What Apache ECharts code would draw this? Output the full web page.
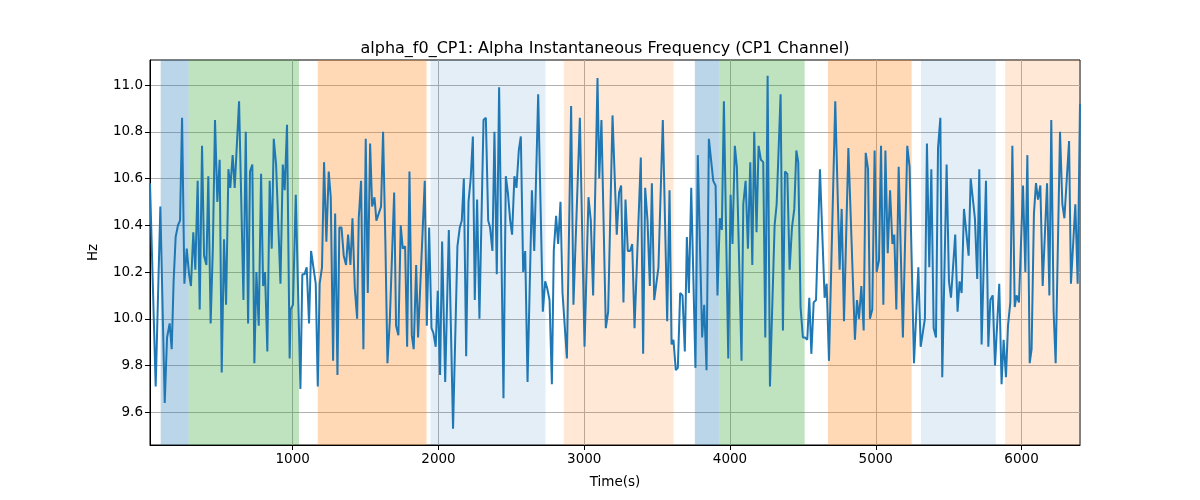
<!DOCTYPE html>
<html>
<head>
<meta charset="utf-8">
<script src="https://cdn.jsdelivr.net/npm/echarts@6/dist/echarts.min.js"></script>
<style>html,body{margin:0;padding:0;background:#fff}#chart{width:1200px;height:500px}</style>
</head>
<body>
<div id="chart"></div>
<script>
const times = [21,60,92,122,138,156,170,183,197,213,227,241,257,273,289,302,318,332,348,362,378,392,408,421,437,452,467,483,499,513,529,543,559,572,588,602,632,662,678,694,707,723,737,751,767,783,797,810,826,842,856,870,886,916,932,945,961,
979,986,1002,1021,1053,1066,1081,1096,1112,1126,1158,1172,1185,1201,1215,1231,1247,1261,1277,1291,1307,1320,1335,1350,1366,1380,1396,1410,1426,1442,1453,1469,1485,1501,1515,1531,1545,1561,1574,1590,1606,1620,1636,1650,1666,1696,1709,1725,1741,1755,1771,1785,1801,1817,1830,1847,1860,1906,1920,1936,1952,1965,1981,1995,2011,2025,2046,2071,
2100,2130,2146,2160,2174,2190,2206,2221,2236,2249,2265,2281,2309,2325,2341,2354,2370,2384,2400,2416,2446,2462,2476,2492,2505,2521,2535,2551,2565,2581,2595,2611,2641,2657,2684,2716,2732,2746,2762,2778,2791,2807,2821,2837,2851,2881,2910,2926,2970,3002,3029,3045,3061,3091,3103,
3118,3148,3164,3194,3223,3239,3253,3269,3283,3299,3315,3329,3345,3388,3404,3418,3434,3450,3464,3480,3509,3539,3569,3585,3599,3612,3628,3642,3658,3674,3690,3704,3718,3734,3763,3779,3809,3823,3839,3855,3885,3901,3914,3930,3944,3958,3988,4004,4017,4033,4047,
4079,4091,4107,4123,4139,4153,4166,4182,4196,4212,4228,4242,4258,4274,4306,4320,4347,4363,4377,4393,4409,4425,4441,4455,4468,4484,4500,4514,4530,4544,4558,4574,4590,4617,4649,4663,4679,4722,4752,4766,4782,4812,4857,4871,4885,4901,4917,4931,4947,4960,4976,4992,5006,5022,5036,5052,5066,5082,5098,5114,5127,5141,5157,
5186,5216,5232,5262,5292,5308,5337,5351,5367,5381,5397,5413,5427,5443,5456,5486,5502,5516,5545,5561,5575,5589,5605,5637,5651,5680,5696,5710,5726,5756,5772,5786,5802,5818,5847,5863,5877,5893,5907,5923,5937,5953,5966,5982,6010,6026,6040,6056,6069,6085,6099,6113,6129,6145,6175,6191,6204,6220,6234,6264,6280,6294,6326,6339,6369,6385,6401];
const values = [10.58,9.71,10.48,9.64,9.92,9.98,9.87,10.16,10.35,10.40,10.42,10.86,10.15,10.30,10.19,10.14,10.37,10.21,10.59,10.04,10.74,10.27,10.23,10.61,9.98,10.30,10.85,10.50,10.68,9.77,10.34,10.06,10.64,10.56,10.70,10.56,10.93,10.08,10.80,9.98,10.63,10.66,9.81,10.20,9.97,10.62,10.14,10.20,9.86,10.59,10.30,10.77,10.66,10.15,10.66,10.55,10.83,
9.83,10.04,10.06,10.53,9.70,10.19,10.19,10.22,9.98,10.29,10.15,9.71,10.15,10.22,10.67,10.33,10.63,10.52,9.82,10.45,9.76,10.39,10.39,10.27,10.23,10.36,10.23,10.43,10.13,10.00,10.43,10.59,9.87,10.77,10.11,10.75,10.48,10.52,10.42,10.45,10.48,10.80,10.32,9.81,9.99,10.54,9.97,9.93,10.40,10.30,10.31,9.88,10.63,9.93,9.87,10.23,9.92,10.59,9.97,10.39,9.96,9.94,9.88,10.12,9.76,10.33,9.73,10.38,
9.53,10.31,10.39,10.42,10.60,9.84,10.50,10.60,10.78,10.08,10.51,10.00,10.85,10.86,10.42,10.39,10.29,10.80,10.19,10.99,9.66,10.61,10.54,10.42,10.36,10.61,10.56,10.72,10.78,10.20,10.29,9.73,10.55,10.29,10.96,10.03,10.16,10.13,10.08,9.72,10.29,10.44,10.32,10.50,10.11,9.83,10.91,10.06,10.86,9.88,10.52,10.42,10.10,11.03,10.60,
10.85,9.96,10.03,10.87,10.36,10.54,10.57,10.07,10.51,10.29,10.29,10.32,9.96,10.69,9.85,10.56,10.42,10.14,10.58,10.08,10.22,10.85,9.99,10.55,9.89,9.91,9.78,9.79,10.11,10.10,9.86,10.35,10.11,10.56,9.79,10.70,9.92,10.06,9.78,10.77,10.59,10.57,10.10,10.43,10.38,10.93,9.83,10.53,10.32,10.74,10.65,
9.82,10.49,10.59,10.30,10.67,10.23,10.80,10.37,10.74,10.68,10.67,9.92,11.04,9.71,10.40,10.49,10.96,9.95,10.63,10.62,10.21,10.39,10.47,10.72,10.67,10.05,9.92,9.92,9.91,10.09,9.85,10.07,10.08,10.64,10.09,10.15,9.82,10.93,10.21,10.47,9.99,10.73,9.91,10.08,10.00,10.14,9.95,10.71,10.64,10.00,10.04,10.72,10.20,10.25,10.74,10.06,10.72,10.28,10.55,10.32,10.36,10.04,10.65,
9.92,10.74,10.65,9.81,10.22,9.88,10.00,10.75,10.22,10.64,9.96,9.92,10.73,10.86,9.75,10.66,10.16,10.09,10.36,10.03,10.16,10.11,10.47,10.27,10.60,10.43,10.17,10.64,9.89,10.59,9.88,10.08,10.10,9.80,10.15,9.72,9.91,9.75,9.97,10.07,10.74,10.05,10.10,10.07,10.57,10.20,10.70,9.81,9.87,10.45,10.58,10.51,10.57,10.14,10.58,10.10,10.85,10.03,9.81,10.80,10.49,10.43,10.76,10.15,10.49,10.15,10.92];

const spanStarts = [94, 286, 1172, 1945, 2860, 3759, 3926, 4672, 5310, 5887];
const spanEnds   = [286, 1043, 1918, 2734, 3613, 3926, 4512, 5246, 5823, 6401];
const spanKinds  = ['A', 'G', 'O', 'LB', 'LO', 'A', 'G', 'O', 'LB', 'LO'];

const xTicks = [1000, 2000, 3000, 4000, 5000, 6000];
const yTicks = [9.6, 9.8, 10.0, 10.2, 10.4, 10.6, 10.8, 11.0];

const kindColors = {
  A: 'rgba(31,119,180,0.3)',
  G: 'rgba(44,160,44,0.3)',
  O: 'rgba(255,127,14,0.3)',
  LB: 'rgba(31,119,180,0.12)',
  LO: 'rgba(255,127,14,0.17)'
};

const seriesData = times.map((t, i) => [t, values[i]]);
const areas = spanStarts.map((s, i) => [
  { xAxis: s, itemStyle: { color: kindColors[spanKinds[i]] } },
  { xAxis: spanEnds[i] }
]);

const font = 'DejaVu Sans';
const chart = echarts.init(document.getElementById('chart'), null, { renderer: 'canvas' });
chart.setOption({
  animation: false,
  backgroundColor: '#fff',
  title: {
    text: 'alpha_f0_CP1: Alpha Instantaneous Frequency (CP1 Channel)',
    left: 600, top: 36, textAlign: 'center',
    textStyle: { fontFamily: font, fontSize: 16, fontWeight: 'normal', color: '#000' }
  },
  grid: { left: 150, right: 120, top: 60, bottom: 55, show: true, borderColor: '#000', borderWidth: 1, backgroundColor: 'transparent' },
  xAxis: {
    type: 'value', min: 21, max: 6401,
    name: 'Time(s)', nameLocation: 'middle', nameGap: 30,
    nameTextStyle: { fontFamily: font, fontSize: 13.5, color: '#000' },
    axisLine: { show: true, onZero: false, lineStyle: { color: '#000' } },
    axisTick: { show: true, length: 5, customValues: xTicks, lineStyle: { color: '#000' } },
    axisLabel: { customValues: xTicks, fontFamily: font, fontSize: 13.5, color: '#000', margin: 7,
      formatter: v => String(Math.round(v)) },
    splitLine: { show: true, lineStyle: { color: '#b0b0b0', width: 1 } }
  },
  yAxis: {
    type: 'value', min: 9.46, max: 11.107,
    name: 'Hz', nameLocation: 'middle', nameGap: 50, nameRotate: 90,
    nameTextStyle: { fontFamily: font, fontSize: 13.5, color: '#000' },
    axisLine: { show: true, onZero: false, lineStyle: { color: '#000' } },
    axisTick: { show: true, length: 5, customValues: yTicks, lineStyle: { color: '#000' } },
    axisLabel: { customValues: yTicks, fontFamily: font, fontSize: 13.5, color: '#000', margin: 7,
      formatter: v => Number(v).toFixed(1) },
    splitLine: { show: true, lineStyle: { color: '#b0b0b0', width: 1 } }
  },
  series: [
    {
      type: 'line', z: -1, data: [], silent: true,
      markArea: { silent: true, data: areas }
    },
    {
      type: 'line', z: 3, data: seriesData, showSymbol: false, symbol: 'none',
      lineStyle: { color: '#1f77b4', width: 2 }, itemStyle: { color: '#1f77b4' }
    }
  ]
});
</script>
</body>
</html>
